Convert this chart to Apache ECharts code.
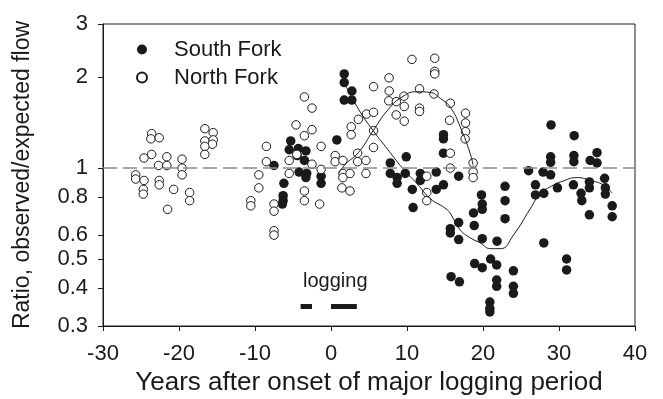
<!DOCTYPE html>
<html>
<head>
<meta charset="utf-8">
<title>Observed/expected flow after logging</title>
<script src="https://cdn.jsdelivr.net/npm/echarts@6/dist/echarts.min.js"></script>
<style>
  html, body { margin: 0; padding: 0; background: #fff; }
  #chart { width: 663px; height: 399px; }
</style>
</head>
<body>
<div id="chart"></div>
<script>
// Flow ratio (observed / expected) by year relative to the start of major logging.
const ratioTicks = [0.3, 0.4, 0.5, 0.6, 0.8, 1, 2, 3];
const expectedLevel = 1;

// South Fork yearly points [year, ratio]
const southFork = [
  [-7.5, 1.02], [-6.2, 0.89], [-6.3, 0.81], [-6.3, 0.78], [-6.4, 0.76],
  [-5.3, 1.23], [-5.5, 1.15], [-4.3, 1.16], [-3.3, 1.14], [-4.45, 1.10],
  [-3.5, 1.06], [-4.2, 0.97], [-3.2, 0.96], [-3.3, 0.93], [-1.3, 0.94],
  [-1.3, 0.89], [0.77, 1.24], [1.74, 2.05], [1.74, 1.92], [2.75, 1.80],
  [1.74, 1.68], [2.75, 1.68], [7.8, 1.04], [7.8, 0.96], [9.9, 1.09],
  [8.7, 0.93], [9.77, 0.96], [8.7, 0.89], [11.75, 0.96], [11.75, 0.91],
  [10.7, 0.85], [10.8, 0.74], [13.85, 0.97], [13.85, 0.85], [14.8, 0.88],
  [14.8, 1.29], [14.8, 1.25], [14.8, 1.12], [16.8, 0.94], [16.8, 0.66],
  [15.7, 0.63], [15.7, 0.61], [16.8, 0.58], [18.75, 0.71], [18.85, 0.645],
  [19.8, 0.815], [19.9, 0.76], [19.9, 0.73], [19.9, 0.584], [21.85, 0.573],
  [22.9, 0.87], [22.9, 0.78], [22.9, 0.68], [26.0, 0.98], [27.9, 0.97],
  [28.9, 0.95], [26.9, 0.88], [26.9, 0.815], [28.0, 0.825], [29.8, 0.86],
  [31.9, 0.88], [34.0, 0.90], [34.0, 0.86], [36.0, 0.925], [36.1, 0.86],
  [36.1, 0.82], [32.9, 0.825], [33.0, 0.78], [37.0, 0.75], [37.0, 0.69],
  [34.0, 0.70], [28.95, 1.39], [32.0, 1.28], [28.9, 1.09], [28.9, 1.045],
  [31.96, 1.10], [31.96, 1.05], [35.0, 1.125], [34.1, 1.06], [35.0, 1.04],
  [28.0, 0.565], [31.0, 0.50], [31.0, 0.46], [21.0, 0.50], [18.9, 0.483],
  [19.9, 0.468], [21.8, 0.478], [24.0, 0.457], [15.8, 0.437], [16.9, 0.42],
  [21.8, 0.426], [21.8, 0.406], [24.0, 0.406], [24.0, 0.385], [20.9, 0.36],
  [20.9, 0.343], [20.9, 0.334]
];

// North Fork yearly points [year, ratio]
const northFork = [
  [-23.6, 1.30], [-23.7, 1.25], [-22.6, 1.26], [-24.6, 1.08], [-23.6, 1.11],
  [-21.6, 1.09], [-22.7, 1.02], [-21.6, 1.02], [-19.6, 1.07], [-19.6, 1.00],
  [-19.6, 0.95], [-25.7, 0.95], [-25.7, 0.92], [-24.6, 0.91], [-24.7, 0.85],
  [-24.7, 0.82], [-22.6, 0.91], [-22.6, 0.88], [-20.7, 0.85], [-18.6, 0.83],
  [-18.6, 0.78], [-21.5, 0.73], [-16.6, 1.35], [-15.5, 1.31], [-16.6, 1.23],
  [-15.5, 1.24], [-15.6, 1.20], [-16.6, 1.18], [-16.6, 1.11], [-8.5, 1.18],
  [-8.5, 1.05], [-9.5, 0.95], [-9.5, 0.86], [-10.55, 0.78], [-10.55, 0.75],
  [-7.5, 0.76], [-7.5, 0.72], [-7.5, 0.62], [-7.5, 0.60],
  [-4.6, 1.39], [-2.5, 1.34], [-3.5, 1.28], [-3.5, 1.72], [-2.5, 1.58],
  [-1.3, 1.18], [-4.5, 1.11], [-5.5, 1.06], [-2.5, 1.03], [-5.5, 0.96],
  [-1.3, 0.99], [-3.5, 0.84], [-3.5, 0.78], [-1.5, 0.76], [0.55, 1.10],
  [0.55, 1.05], [1.57, 1.06], [1.57, 0.96], [1.57, 0.93], [1.43, 0.86],
  [2.5, 0.84], [2.5, 0.96], [3.5, 1.05], [3.5, 1.12], [4.6, 1.06],
  [4.6, 0.96], [5.6, 1.17], [5.6, 1.33], [2.66, 1.37], [2.66, 1.29],
  [3.6, 1.45], [4.67, 1.51], [5.6, 1.53], [5.6, 1.86], [7.64, 1.99],
  [7.66, 1.80], [7.6, 1.67], [8.6, 1.66], [9.6, 1.73], [9.64, 1.60],
  [8.58, 1.50], [9.64, 1.43], [11.65, 1.83], [11.65, 1.58], [11.65, 1.54],
  [13.55, 1.76], [10.65, 2.29], [13.65, 2.31], [13.65, 2.09], [13.65, 2.05],
  [15.7, 1.64], [15.6, 1.44], [17.7, 1.52], [17.7, 1.41], [17.7, 1.32],
  [17.65, 1.25], [15.7, 1.12], [15.7, 1.00], [18.7, 1.04], [18.7, 0.97],
  [18.7, 0.93], [12.6, 0.94], [12.6, 0.83], [12.6, 0.78]
];

// Smoothed trends [year, ratio]
const northTrend = [
  [1.0, 0.96], [1.9, 1.03], [3.6, 1.125], [5.55, 1.33], [7.5, 1.56],
  [9.5, 1.73], [11.35, 1.79], [13.05, 1.78], [14.4, 1.70], [15.7, 1.59],
  [17.0, 1.37], [18.3, 1.12], [18.7, 1.02]
];
const southTrend = [
  [1.6, 1.95], [3.6, 1.57], [5.55, 1.33], [7.5, 1.15], [9.4, 1.00],
  [11.35, 0.886], [13.05, 0.793], [15.3, 0.727], [16.1, 0.68], [17.0, 0.624],
  [18.3, 0.588], [19.6, 0.566], [21.0, 0.541], [22.3, 0.541], [24.0, 0.60],
  [26.2, 0.732], [27.5, 0.82], [29.3, 0.88], [30.2, 0.90], [32.4, 0.93],
  [34.1, 0.91], [35.8, 0.88], [37.0, 0.826]
];

// Major logging periods [start year, end year] and the level they are drawn at
const loggingPeriods = [[-4.0, -2.5], [0.0, 3.4]];
const loggingLevel = 0.348;

const ink = '#1a1a1a';
const fontFamily = '"Liberation Sans", Arial, Helvetica, sans-serif';

const chart = echarts.init(document.getElementById('chart'), null, { renderer: 'canvas' });

const option = {
  animation: false,
  backgroundColor: '#ffffff',
  textStyle: { fontFamily: fontFamily, color: ink },
  grid: {
    left: 103, right: 28, top: 24, bottom: 73,
    show: true, borderColor: ink, borderWidth: 1,
    containLabel: false, outerBoundsMode: 'none'
  },
  legend: {
    data: ['South Fork', 'North Fork'],
    orient: 'vertical',
    left: 136, top: 38,
    padding: 0,
    itemGap: 5,
    itemWidth: 10, itemHeight: 10,
    textStyle: {
      fontSize: 22, color: ink, fontFamily: fontFamily,
      lineHeight: 23, padding: [0, 0, 0, 22]
    }
  },
  xAxis: {
    type: 'value',
    min: -30, max: 40, interval: 10,
    name: 'Years after onset of major logging period',
    nameLocation: 'middle', nameGap: 44,
    nameTextStyle: { fontSize: 26, color: ink, fontFamily: fontFamily },
    axisLine: { show: true, onZero: false, lineStyle: { color: ink, width: 1 } },
    axisTick: { show: true, inside: false, length: 5, lineStyle: { color: ink } },
    axisLabel: { fontSize: 22, color: ink, margin: 17, fontFamily: fontFamily },
    splitLine: { show: false }
  },
  yAxis: {
    type: 'log', logBase: 10,
    min: 0.3, max: 3,
    name: 'Ratio, observed/expected flow',
    nameLocation: 'middle', nameGap: 69, nameRotate: 90,
    nameTextStyle: { fontSize: 23, color: ink, fontFamily: fontFamily },
    axisLine: { show: true, onZero: false, lineStyle: { color: ink, width: 1 } },
    axisTick: { show: true, inside: false, length: 5, customValues: ratioTicks, lineStyle: { color: ink } },
    axisLabel: {
      customValues: ratioTicks,
      fontSize: 22, color: ink, margin: 15, fontFamily: fontFamily,
      formatter: function (v) { return String(+(+v).toFixed(2)); }
    },
    splitLine: { show: false },
    minorTick: { show: false }
  },
  graphic: [{
    type: 'text', left: 303, top: 271, silent: true,
    style: { text: 'logging', font: '20px ' + fontFamily, fill: ink }
  }],
  series: [
    {
      name: 'expected', type: 'line', data: [], silent: true, z: 1,
      markLine: {
        silent: true, symbol: ['none', 'none'], label: { show: false },
        lineStyle: { color: '#8c8c8c', width: 1.5, type: [14, 6] },
        data: [{ yAxis: expectedLevel }]
      }
    },
    {
      name: 'logging', type: 'line', data: [], silent: true, z: 1,
      markLine: {
        silent: true, symbol: ['none', 'none'], label: { show: false },
        lineStyle: { color: ink, width: 5, type: 'solid', cap: 'butt' },
        data: loggingPeriods.map(function (p) {
          return [{ coord: [p[0], loggingLevel] }, { coord: [p[1], loggingLevel] }];
        })
      }
    },
    {
      name: 'South Fork', type: 'scatter', data: southFork, z: 2,
      symbol: 'circle', symbolSize: 9.5,
      itemStyle: { color: ink, borderColor: ink, borderWidth: 0, opacity: 1 }
    },
    {
      name: 'North Fork', type: 'scatter', data: northFork, z: 3,
      symbol: 'circle', symbolSize: 8.5,
      itemStyle: { color: '#ffffff', borderColor: ink, borderWidth: 1, opacity: 1 }
    },
    {
      name: 'North trend', type: 'line', data: northTrend, z: 4,
      smooth: 0.5, showSymbol: false, silent: true,
      lineStyle: { color: ink, width: 1 }
    },
    {
      name: 'South trend', type: 'line', data: southTrend, z: 4,
      smooth: 0.5, showSymbol: false, silent: true,
      lineStyle: { color: ink, width: 1 }
    }
  ]
};

chart.setOption(option);
</script>
</body>
</html>
